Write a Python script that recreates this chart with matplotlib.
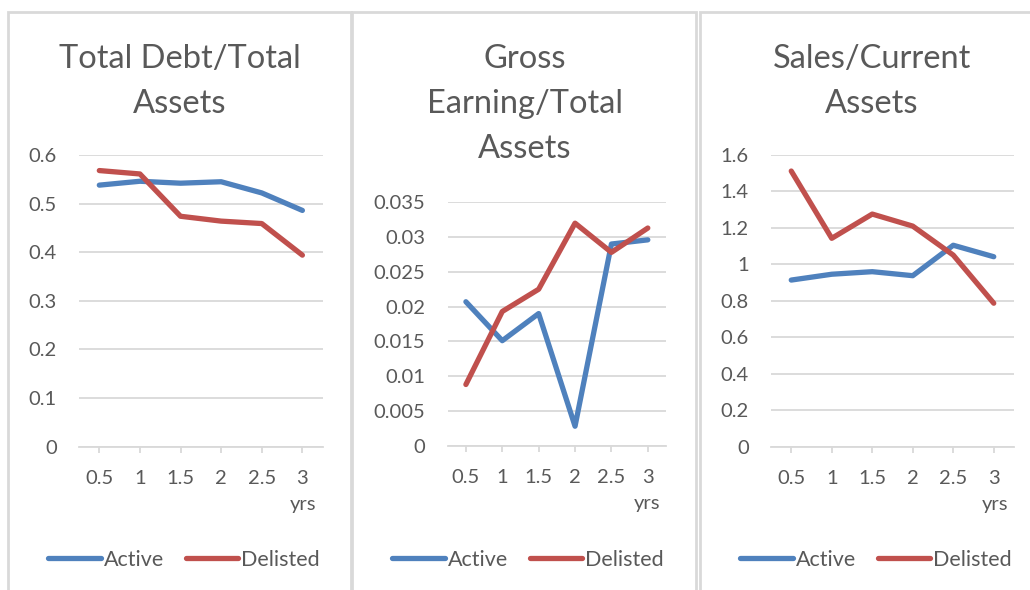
import matplotlib
matplotlib.use("Agg")
import matplotlib.pyplot as plt
from matplotlib.patches import Rectangle

plt.rcParams['font.family'] = ['Lato', 'DejaVu Sans']

years = ["0.5", "1", "1.5", "2", "2.5", "3"]

debt_active = [0.538, 0.546, 0.542, 0.545, 0.522, 0.486]
debt_delisted = [0.568, 0.561, 0.474, 0.464, 0.459, 0.394]

gross_active = [0.0207, 0.0151, 0.0190, 0.0028, 0.0290, 0.0296]
gross_delisted = [0.0088, 0.0193, 0.0225, 0.0320, 0.0278, 0.0313]

sales_active = [0.914, 0.946, 0.960, 0.938, 1.105, 1.042]
sales_delisted = [1.512, 1.143, 1.276, 1.210, 1.051, 0.787]

titles = ["Total Debt/Total\nAssets", "Gross\nEarning/Total\nAssets", "Sales/Current\nAssets"]
ylims = [(0, 0.6), (0, 0.035), (0, 1.6)]
ysteps = [0.1, 0.005, 0.2]
ylabels = [["0", "0.1", "0.2", "0.3", "0.4", "0.5", "0.6"],
           ["0", "0.005", "0.01", "0.015", "0.02", "0.025", "0.03", "0.035"],
           ["0", "0.2", "0.4", "0.6", "0.8", "1", "1.2", "1.4", "1.6"]]
actives = [debt_active, gross_active, sales_active]
delisteds = [debt_delisted, gross_delisted, sales_delisted]

BLUE = "#4F81BD"
RED = "#C0504D"
GRID = "#D9D9D9"
TXT = "#595959"

W, H = 1030, 590
fig = plt.figure(figsize=(W / 100, H / 100), dpi=100)

# panel boxes (pixels: left, right)
boxes = [(8, 351), (352, 696), (700, 1040)]
for l, r in boxes:
    fig.patches.append(Rectangle((l / W, -0.1), (r - l) / W, 1.1 - 12 / H,
                                 transform=fig.transFigure, fill=False,
                                 edgecolor=GRID, lw=2))

# axes rects in pixels: left, right, top, bottom
rects = [(79, 322.7, 155, 446.7), (447.7, 666, 202.3, 445.7), (771, 1014, 155, 446.7)]
title_x = [180, 525, 872]
legend_x = [184, 528, 876]

for i in range(3):
    l, r, t, b = rects[i]
    ax = fig.add_axes([l / W, 1 - b / H, (r - l) / W, (b - t) / H])
    x = list(range(len(years)))
    ax.plot(x, actives[i], color=BLUE, lw=3.8, label="Active", solid_capstyle="round")
    ax.plot(x, delisteds[i], color=RED, lw=3.8, label="Delisted", solid_capstyle="round")
    ax.set_xlim(-0.5, len(years) - 0.5)
    ax.set_ylim(*ylims[i])
    yt = [k * ysteps[i] for k in range(len(ylabels[i]))]
    ax.set_yticks(yt)
    ax.set_yticklabels(ylabels[i])
    ax.set_xticks(x)
    ax.set_xticklabels(years)
    ax.grid(axis="y", color=GRID, lw=1.3)
    ax.set_axisbelow(True)
    for s in ["top", "right", "left"]:
        ax.spines[s].set_visible(False)
    ax.spines["bottom"].set_color(GRID)
    ax.spines["bottom"].set_linewidth(1.3)
    ax.tick_params(axis="y", length=0, pad=16, labelsize=14.5, labelcolor=TXT)
    ax.tick_params(axis="x", length=4, width=1.3, color=GRID, pad=13, labelsize=14.5, labelcolor=TXT)
    ax.annotate("yrs", xy=(1, 0), xycoords="axes fraction", xytext=(-6, -58),
                textcoords="offset pixels", ha="right", va="center", fontsize=14.5, color=TXT)
    fig.text(title_x[i] / W, 1 - 44 / H, titles[i], ha="center", va="top",
             fontsize=23.5, color=TXT, linespacing=1.62)
    leg = ax.legend(loc="center", bbox_to_anchor=(legend_x[i] / W, 1 - 560 / H),
                    bbox_transform=fig.transFigure, ncol=2, frameon=False,
                    fontsize=15.5, handlelength=2.45, handletextpad=0.12, columnspacing=1.0)
    for t_ in leg.get_texts():
        t_.set_color(TXT)

fig.savefig("out.png", dpi=100, facecolor="white")
